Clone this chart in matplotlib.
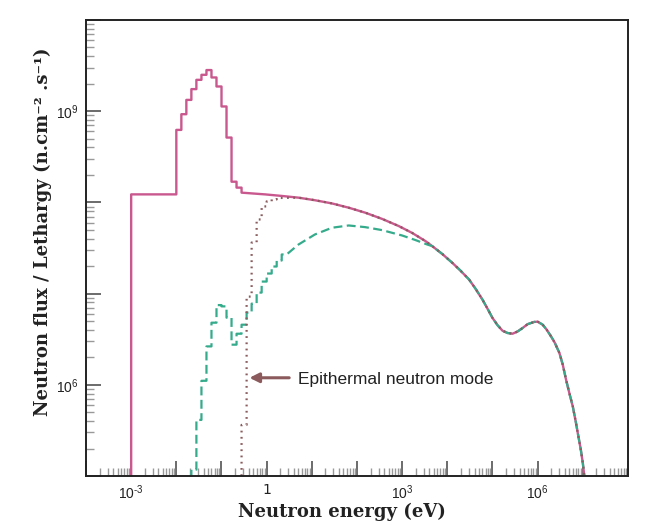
import numpy as np
import matplotlib
matplotlib.use("Agg")
import matplotlib.pyplot as plt
from matplotlib.ticker import LogLocator, FuncFormatter, NullFormatter

plt.rcParams['mathtext.fontset'] = 'custom'
plt.rcParams['mathtext.rm'] = 'Liberation Sans'
plt.rcParams['mathtext.it'] = 'Liberation Sans:italic'
plt.rcParams['mathtext.bf'] = 'Liberation Sans:bold'

# all values are log10(energy / eV) and log10(flux)
# thermal peak of the standard mode, binned histogram
pink_edges = [-3.0, -2.0, -1.889, -1.778, -1.667, -1.556, -1.444, -1.333,
              -1.222, -1.111, -1.0, -0.889, -0.778, -0.667, -0.556]
pink_bins = [8.088, 8.795, 8.967, 9.124, 9.242, 9.344, 9.399, 9.451,
             9.370, 9.271, 9.052, 8.711, 8.227, 8.162]
pink_smooth_e = [-0.556, -0.038, 0.333]
pink_smooth_f = [8.107, 8.088, 8.071]

# epithermal mode (dotted), cadmium-like cut
dot_edges = [-0.556, -0.444, -0.333, -0.222, -0.111, 0.0, 0.111, 0.222, 0.333]
dot_bins = [5.56, 6.967, 7.56, 7.813, 7.956, 8.011, 8.033, 8.049]

# shared slowing-down part of pink and dotted
epi_e = [0.704, 1.067, 1.444, 1.816, 2.184, 2.556, 2.927, 3.222, 3.518]
epi_f = [8.052, 8.024, 7.989, 7.942, 7.887, 7.819, 7.740, 7.665, 7.575]

# green dashed mode
green_edges = [-1.667, -1.556, -1.444, -1.333, -1.222, -1.111, -1.0, -0.889,
               -0.778, -0.667, -0.556, -0.444, -0.333, -0.222, -0.111, 0.0,
               0.111, 0.222, 0.333, 0.444]
green_bins = [5.07, 5.615, 6.044, 6.421, 6.681, 6.874, 6.86, 6.736, 6.44,
              6.56, 6.659, 6.791, 6.89, 7.011, 7.132, 7.22, 7.297, 7.363, 7.429]
green_smooth_e = [0.444, 0.704, 1.067, 1.444, 1.816, 2.178, 2.556, 3.0, 3.289, 3.556]
green_smooth_f = [7.43, 7.538, 7.648, 7.722, 7.747, 7.729, 7.696, 7.637, 7.588, 7.538]

# fast tail common to all three
tail_e = [3.667, 3.889, 4.111, 4.289, 4.482, 4.622, 4.778, 4.889, 5.0, 5.111,
          5.222, 5.333, 5.444, 5.556, 5.667, 5.778, 5.927, 6.0, 6.111, 6.2,
          6.296, 6.378, 6.482, 6.556, 6.629, 6.711, 6.778, 6.844, 6.889, 6.956,
          7.0, 7.056]
tail_f = [7.520, 7.434, 7.337, 7.253, 7.154, 7.055, 6.934, 6.835, 6.733, 6.654,
          6.593, 6.568, 6.560, 6.585, 6.623, 6.665, 6.690, 6.692, 6.659, 6.604,
          6.531, 6.462, 6.348, 6.220, 6.055, 5.890, 5.762, 5.593, 5.469, 5.286,
          5.140, 4.90]

floor = 4.0  # below the axis, for vertical rises from zero


def steps(edges, vals):
    x = np.repeat(edges, 2)[1:-1]
    y = np.repeat(vals, 2)
    return x, y


def build(parts):
    xs, ys = zip(*parts)
    return 10 ** np.concatenate(xs), 10 ** np.concatenate(ys)


px, py = steps(pink_edges, pink_bins)
pink = build([([pink_edges[0]], [floor]), (px, py),
              (pink_smooth_e, pink_smooth_f), (epi_e, epi_f), (tail_e, tail_f)])

dx, dy = steps(dot_edges, dot_bins)
dotted = build([([dot_edges[0]], [floor]), (dx, dy), (epi_e, epi_f), (tail_e, tail_f)])

gx, gy = steps(green_edges, green_bins)
green = build([([green_edges[0]], [floor]), (gx, gy),
               (green_smooth_e, green_smooth_f), (tail_e, tail_f)])

c_pink = '#c9588e'
c_green = '#36ab8c'
c_brown = '#8a5a5c'

fig = plt.figure(figsize=(6.58, 5.31), dpi=100)
ax = fig.add_axes([86 / 658, 1 - 476 / 531, 542 / 658, 456 / 531])

ax.plot(*pink, color=c_pink, lw=1.7)
ax.plot(*green, color=c_green, lw=1.6, dashes=(4, 2))
ax.plot(*dotted, color=c_brown, lw=1.6, linestyle=(0, (0.8, 2.0)))

ax.set_xscale('log')
ax.set_yscale('log')
ax.set_xlim(1e-4, 1e8)
ax.set_ylim(1e5, 1e10)

ax.xaxis.set_major_locator(LogLocator(base=10, numticks=30))
ax.xaxis.set_minor_locator(LogLocator(base=10, subs=np.arange(2, 10), numticks=30))
ax.yaxis.set_major_locator(LogLocator(base=10, numticks=30))
ax.yaxis.set_minor_locator(LogLocator(base=10, subs=np.arange(2, 10), numticks=30))


def xfmt(v, pos):
    e = int(round(np.log10(v)))
    if e == 0:
        return '1'
    if e == -3:
        return r'$10^{\text{-}3}$'
    if e in (3, 6):
        return r'$10^{%d}$' % e
    return ''


def yfmt(v, pos):
    e = int(round(np.log10(v)))
    if e in (6, 9):
        return r'$10^{%d}$' % e
    return ''


ax.xaxis.set_major_formatter(FuncFormatter(xfmt))
ax.yaxis.set_major_formatter(FuncFormatter(yfmt))
ax.xaxis.set_minor_formatter(NullFormatter())
ax.yaxis.set_minor_formatter(NullFormatter())

ax.tick_params(which='major', direction='in', length=11, width=1.1, color='#444',
               labelsize=10, labelcolor='#222', pad=5)
ax.tick_params(which='minor', direction='in', length=6, width=1, color='#999')
for s in ax.spines.values():
    s.set_linewidth(1.4)
    s.set_color('#222')

serif = ['DejaVu Serif', 'Liberation Serif']
ax.set_xlabel('Neutron energy (eV)', family=serif,
              fontsize=13, fontweight='bold', color='#222')
ax.set_ylabel('Neutron flux / Lethargy (n.cm⁻² .s⁻¹)', family=serif,
              fontsize=13, fontweight='bold', color='#222')
ax.xaxis.set_label_coords(0.472, -0.058)
ax.yaxis.set_label_coords(-0.062, 0.535)

ax.annotate('', xy=(10 ** -0.444, 10 ** 6.077), xytext=(10 ** 0.56, 10 ** 6.077),
            arrowprops=dict(arrowstyle='-|>', color=c_brown, lw=2.2, mutation_scale=14))
ax.text(10 ** 0.689, 10 ** 6.06, 'Epithermal neutron mode', fontsize=12.5,
        family='Liberation Sans', color='#222', va='center', ha='left')

fig.savefig('out.png', dpi=100)
